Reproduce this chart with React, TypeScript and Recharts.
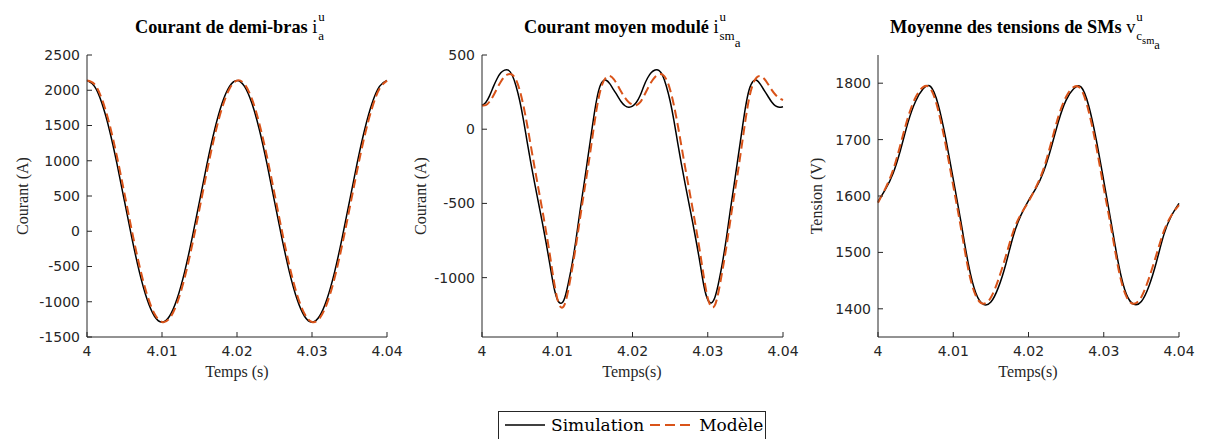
import React from "react";
import { Line, LineChart, XAxis, YAxis } from "recharts";

// time offsets in ms after t = 4 s
const tA = [0, 1, 2, 3, 4, 5, 6, 7, 8, 9, 10, 11, 12, 13, 14, 15, 16, 17, 18, 19, 20, 21, 22, 23, 24, 25, 26, 27, 28, 29, 30, 31, 32, 33, 34, 35, 36, 37, 38, 39, 40];
const tB = [0, 0.5, 1, 1.5, 2, 2.5, 3, 3.5, 4, 4.5, 5, 5.5, 6, 6.5, 7, 7.5, 8, 8.5, 9, 9.5, 10, 10.5, 11, 11.5, 12, 12.5, 13, 13.5, 14, 14.5, 15, 15.5, 16, 16.5, 17, 17.5, 18, 18.5, 19, 19.5, 20, 20.5, 21, 21.5, 22, 22.5, 23, 23.5, 24, 24.5, 25, 25.5, 26, 26.5, 27, 27.5, 28, 28.5, 29, 29.5, 30, 30.5, 31, 31.5, 32, 32.5, 33, 33.5, 34, 34.5, 35, 35.5, 36, 36.5, 37, 37.5, 38, 38.5, 39, 39.5, 40];

// Courant de demi-bras
const simA = [2140, 2055, 1812, 1433, 955, 425, -105, -583, -962, -1206, -1290, -1206, -962, -583, -105, 425, 955, 1433, 1812, 2056, 2140, 2056, 1812, 1433, 955, 425, -105, -583, -962, -1206, -1290, -1206, -962, -583, -105, 425, 955, 1433, 1812, 2055, 2138];
const modA = [2137, 2086, 1873, 1518, 1056, 533, -1, -494, -896, -1170, -1287, -1236, -1023, -668, -206, 317, 852, 1344, 1746, 2020, 2137, 2086, 1873, 1518, 1056, 533, -1, -494, -896, -1170, -1287, -1236, -1023, -668, -206, 317, 852, 1344, 1746, 2020, 2137];

// Courant moyen modulé
const simB = [160, 180, 225, 285, 340, 380, 398, 398, 365, 295, 195, 65, -85, -230, -365, -495, -625, -760, -905, -1050, -1145, -1173, -1135, -1030, -900, -740, -560, -390, -215, -40, 130, 260, 320, 330, 305, 265, 225, 185, 158, 148, 155, 180, 225, 290, 345, 382, 399, 397, 362, 290, 190, 60, -90, -235, -370, -500, -630, -765, -910, -1058, -1148, -1170, -1125, -1020, -885, -725, -545, -375, -200, -25, 143, 266, 322, 330, 302, 262, 222, 183, 157, 148, 152];
const modB = [160, 162, 185, 225, 275, 320, 355, 370, 368, 335, 265, 160, 30, -115, -260, -400, -540, -685, -840, -1005, -1140, -1200, -1178, -1075, -935, -780, -610, -445, -285, -115, 60, 210, 305, 350, 358, 338, 298, 252, 212, 182, 166, 162, 180, 222, 272, 318, 352, 369, 368, 336, 266, 162, 32, -113, -258, -398, -538, -683, -838, -1002, -1137, -1198, -1180, -1078, -938, -785, -615, -450, -290, -118, 58, 208, 303, 348, 358, 340, 305, 265, 232, 210, 197];

// Moyenne des tensions de SMs
const simC = [1590, 1612, 1640, 1682, 1731, 1768, 1790, 1794, 1762, 1702, 1630, 1556, 1480, 1428, 1408, 1412, 1438, 1480, 1530, 1566, 1592, 1614, 1643, 1685, 1733, 1770, 1790, 1793, 1760, 1700, 1627, 1552, 1477, 1426, 1408, 1413, 1440, 1483, 1532, 1565, 1587];
const modC = [1588, 1614, 1646, 1692, 1740, 1775, 1793, 1790, 1752, 1690, 1618, 1545, 1470, 1423, 1409, 1420, 1452, 1494, 1538, 1568, 1590, 1616, 1648, 1694, 1742, 1776, 1793, 1789, 1750, 1688, 1614, 1542, 1468, 1422, 1409, 1421, 1454, 1496, 1538, 1566, 1584];

const xTicks = [0, 10, 20, 30, 40];
const yTicksA = [-1500, -1000, -500, 0, 500, 1000, 1500, 2000, 2500];
const yTicksB = [-1000, -500, 0, 500];
const yTicksC = [1400, 1500, 1600, 1700, 1800];

const SIM = "#000000";
const MOD = "#D95319";
const AX = "#262626";
const SERIF = "'Liberation Serif', serif";
const LEG_FONT = "'DejaVu Serif', serif";

const rows = (t: number[], sim: number[], mod: number[]) =>
  t.map((v, i) => ({ t: v, sim: sim[i], mod: mod[i] }));

const fmtT = (v: number) => (4 + v / 1000).toFixed(2).replace(/\.?0+$/, "");

const tickStyle = { fontSize: 14, fill: AX, fontFamily: "'DejaVu Sans', Verdana, sans-serif" };

function Panel({
  left,
  width,
  yw,
  mr,
  data,
  domain,
  ticks,
}: {
  left: number;
  width: number;
  yw: number;
  mr: number;
  data: { t: number; sim: number; mod: number }[];
  domain: [number, number];
  ticks: number[];
}) {
  return (
    <div style={{ position: "absolute", left, top: 0 }}>
      <LineChart width={width} height={367} data={data} margin={{ top: 55, right: mr, bottom: 0, left: 0 }}>
        <XAxis
          xAxisId="b"
          dataKey="t"
          type="number"
          domain={[0, 40]}
          ticks={xTicks}
          tickFormatter={fmtT}
          height={30}
          stroke={AX}
          tickSize={-5}
          tickMargin={14}
          tick={tickStyle}
          interval={0}
        />
        <XAxis xAxisId="top" dataKey="t" type="number" domain={[0, 40]} ticks={xTicks} orientation="top" mirror height={0} tick={false} stroke={AX} tickSize={5} />
        <YAxis
          yAxisId="l"
          type="number"
          domain={domain}
          ticks={ticks}
          width={yw}
          stroke={AX}
          tickSize={-5}
          tickMargin={12}
          tick={tickStyle}
          interval={0}
        />
        <YAxis yAxisId="r" type="number" domain={domain} ticks={ticks} orientation="right" mirror width={0} tick={false} stroke={AX} tickSize={5} />
        <Line xAxisId="b" yAxisId="l" type="natural" dataKey="sim" stroke={SIM} strokeWidth={1.5} dot={false} isAnimationActive={false} />
        <Line xAxisId="b" yAxisId="l" type="natural" dataKey="mod" stroke={MOD} strokeWidth={2} strokeDasharray="9 4.5" dot={false} isAnimationActive={false} />
      </LineChart>
    </div>
  );
}

function Title({ left, text, base, sup, sub }: { left: number; text: string; base: string; sup: string; sub: React.ReactNode }) {
  return (
    <div style={{ position: "absolute", left, top: 17, whiteSpace: "nowrap", fontFamily: SERIF, fontSize: 18.3, lineHeight: "20px", color: "#000" }}>
      <span style={{ fontWeight: "bold" }}>{text} </span>
      <span>{base}</span>
      <span style={{ display: "inline-block", position: "relative", width: 20, height: 0, fontSize: 13, lineHeight: "13px" }}>
        <span style={{ position: "absolute", left: 1, top: -23 }}>{sup}</span>
        <span style={{ position: "absolute", left: 1, top: -4 }}>{sub}</span>
      </span>
    </div>
  );
}

function YLabel({ x, y, text }: { x: number; y: number; text: string }) {
  return (
    <div style={{ position: "absolute", left: x, top: y, transform: "translate(-50%, -50%) rotate(-90deg)", whiteSpace: "nowrap", fontFamily: SERIF, fontSize: 16, color: AX }}>
      {text}
    </div>
  );
}

function XLabel({ x, y, text }: { x: number; y: number; text: string }) {
  return (
    <div style={{ position: "absolute", left: x, top: y, transform: "translate(-50%, -50%)", whiteSpace: "nowrap", fontFamily: SERIF, fontSize: 16, color: AX }}>
      {text}
    </div>
  );
}

export default function App() {
  return (
    <div style={{ position: "absolute", left: 0, top: 0, width: 1207, height: 439, background: "#fff", overflow: "hidden" }}>
      <Panel left={0} width={415} yw={87} mr={28} data={rows(tA, simA, modA)} domain={[-1500, 2500]} ticks={yTicksA} />
      <Panel left={400} width={415} yw={82} mr={32} data={rows(tB, simB, modB)} domain={[-1400, 500]} ticks={yTicksB} />
      <Panel left={800} width={407} yw={78} mr={28} data={rows(tA, simC, modC)} domain={[1350, 1850]} ticks={yTicksC} />

      <Title left={135} text="Courant de demi-bras" base="i" sup="u" sub="a" />
      <Title
        left={524}
        text="Courant moyen modulé"
        base="i"
        sup="u"
        sub={
          <>
            sm<span style={{ position: "relative", top: 7 }}>a</span>
          </>
        }
      />
      <Title
        left={890}
        text="Moyenne des tensions de SMs"
        base="v"
        sup="u"
        sub={
          <>
            c
            <span style={{ position: "relative", top: 4, fontSize: 10.5 }}>
              sm<span style={{ position: "relative", top: 5, fontSize: 12.5 }}>a</span>
            </span>
          </>
        }
      />

      <YLabel x={23} y={196} text="Courant (A)" />
      <YLabel x={421} y={196} text="Courant (A)" />
      <YLabel x={817} y={196} text="Tension (V)" />
      <XLabel x={237} y={372} text="Temps (s)" />
      <XLabel x={632} y={372} text="Temps(s)" />
      <XLabel x={1028} y={372} text="Temps(s)" />

      <div
        style={{
          position: "absolute",
          left: 498,
          top: 411,
          width: 268,
          height: 40,
          boxSizing: "border-box",
          border: `1px solid ${AX}`,
          background: "#fff",
          display: "flex",
          alignItems: "flex-start",
          paddingLeft: 6,
          fontFamily: LEG_FONT,
          fontSize: 17,
          lineHeight: "26px",
          color: "#000",
          whiteSpace: "nowrap",
        }}
      >
        <svg width={40} height={26} style={{ flex: "none" }}>
          <line x1={0} x2={40} y1={13} y2={13} stroke={SIM} strokeWidth={1.5} />
        </svg>
        <span style={{ marginLeft: 6 }}>Simulation</span>
        <svg width={45} height={26} style={{ flex: "none", marginLeft: 6 }}>
          <line x1={0} x2={45} y1={13} y2={13} stroke={MOD} strokeWidth={2} strokeDasharray="10 5" />
        </svg>
        <span style={{ marginLeft: 4 }}>Modèle</span>
      </div>
    </div>
  );
}
